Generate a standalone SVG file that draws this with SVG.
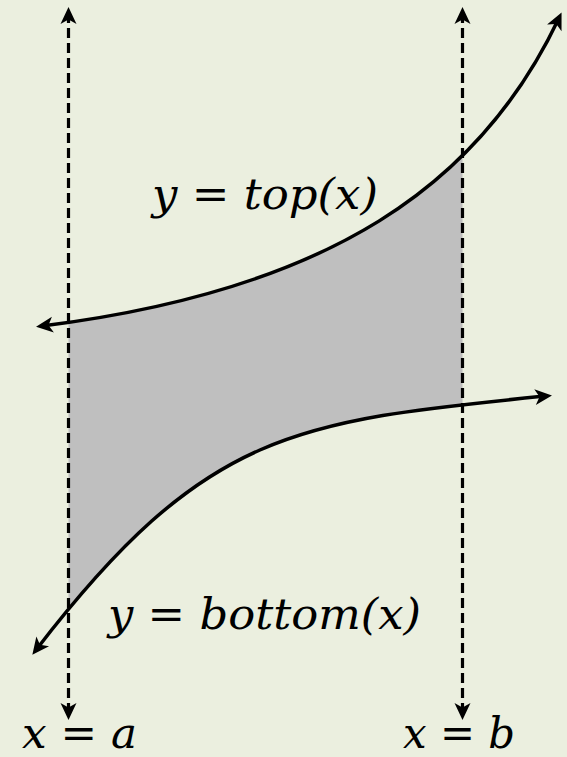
<svg xmlns="http://www.w3.org/2000/svg" width="567" height="757" viewBox="0 0 567 757">
  <style>
    .curve { fill: none; stroke: #000; stroke-width: 3.5; }
    .guide { fill: none; stroke: #000; stroke-width: 3.2; stroke-dasharray: 10 5; }
    .lbl { font-family: "DejaVu Serif", "Liberation Serif", serif; font-style: italic; font-size: 43px; fill: #000; }
  </style>
  <defs>
    <marker id="arr" markerUnits="userSpaceOnUse" markerWidth="19" markerHeight="17" refX="11" refY="8" orient="auto-start-reverse" overflow="visible">
      <path d="M0,0 L17,8 L0,16 L4.5,8 Z" fill="#000"/>
    </marker>
    <clipPath id="band">
      <rect x="68.5" y="0" width="394" height="757"/>
    </clipPath>
  </defs>
  <rect width="567" height="757" fill="#EBEFDF"/>
  <g id="region">
    <path clip-path="url(#band)" fill="#BFBFBF" stroke="none" d="M42,326 C330,290 480,185 559,18 L600,18 L600,396 L546,396 C296,421 206,429 36,650 L0,650 L0,326 Z"/>
  </g>
  <g id="connectors">
    <path id="x-a-line" class="guide" d="M68.5,13 L68.5,714" marker-start="url(#arr)" marker-end="url(#arr)"/>
    <path id="x-b-line" class="guide" d="M462.5,13 L462.5,714" marker-start="url(#arr)" marker-end="url(#arr)"/>
    <path id="top-curve" class="curve" d="M42,326 C330,290 480,185 559,18" marker-start="url(#arr)" marker-end="url(#arr)"/>
    <path id="bottom-curve" class="curve" d="M36,650 C206,429 296,421 546,396" marker-start="url(#arr)" marker-end="url(#arr)"/>
  </g>
  <g id="label-top"><text class="lbl" x="152" y="209" textLength="226" lengthAdjust="spacingAndGlyphs">y = top(x)</text></g>
  <g id="label-bottom"><text class="lbl" x="108" y="629" textLength="313" lengthAdjust="spacingAndGlyphs">y = bottom(x)</text></g>
  <g id="label-a"><text class="lbl" x="22" y="748" font-size="42" textLength="115" lengthAdjust="spacingAndGlyphs">x = a</text></g>
  <g id="label-b"><text class="lbl" x="403" y="748" font-size="42" textLength="112" lengthAdjust="spacingAndGlyphs">x = b</text></g>
</svg>
